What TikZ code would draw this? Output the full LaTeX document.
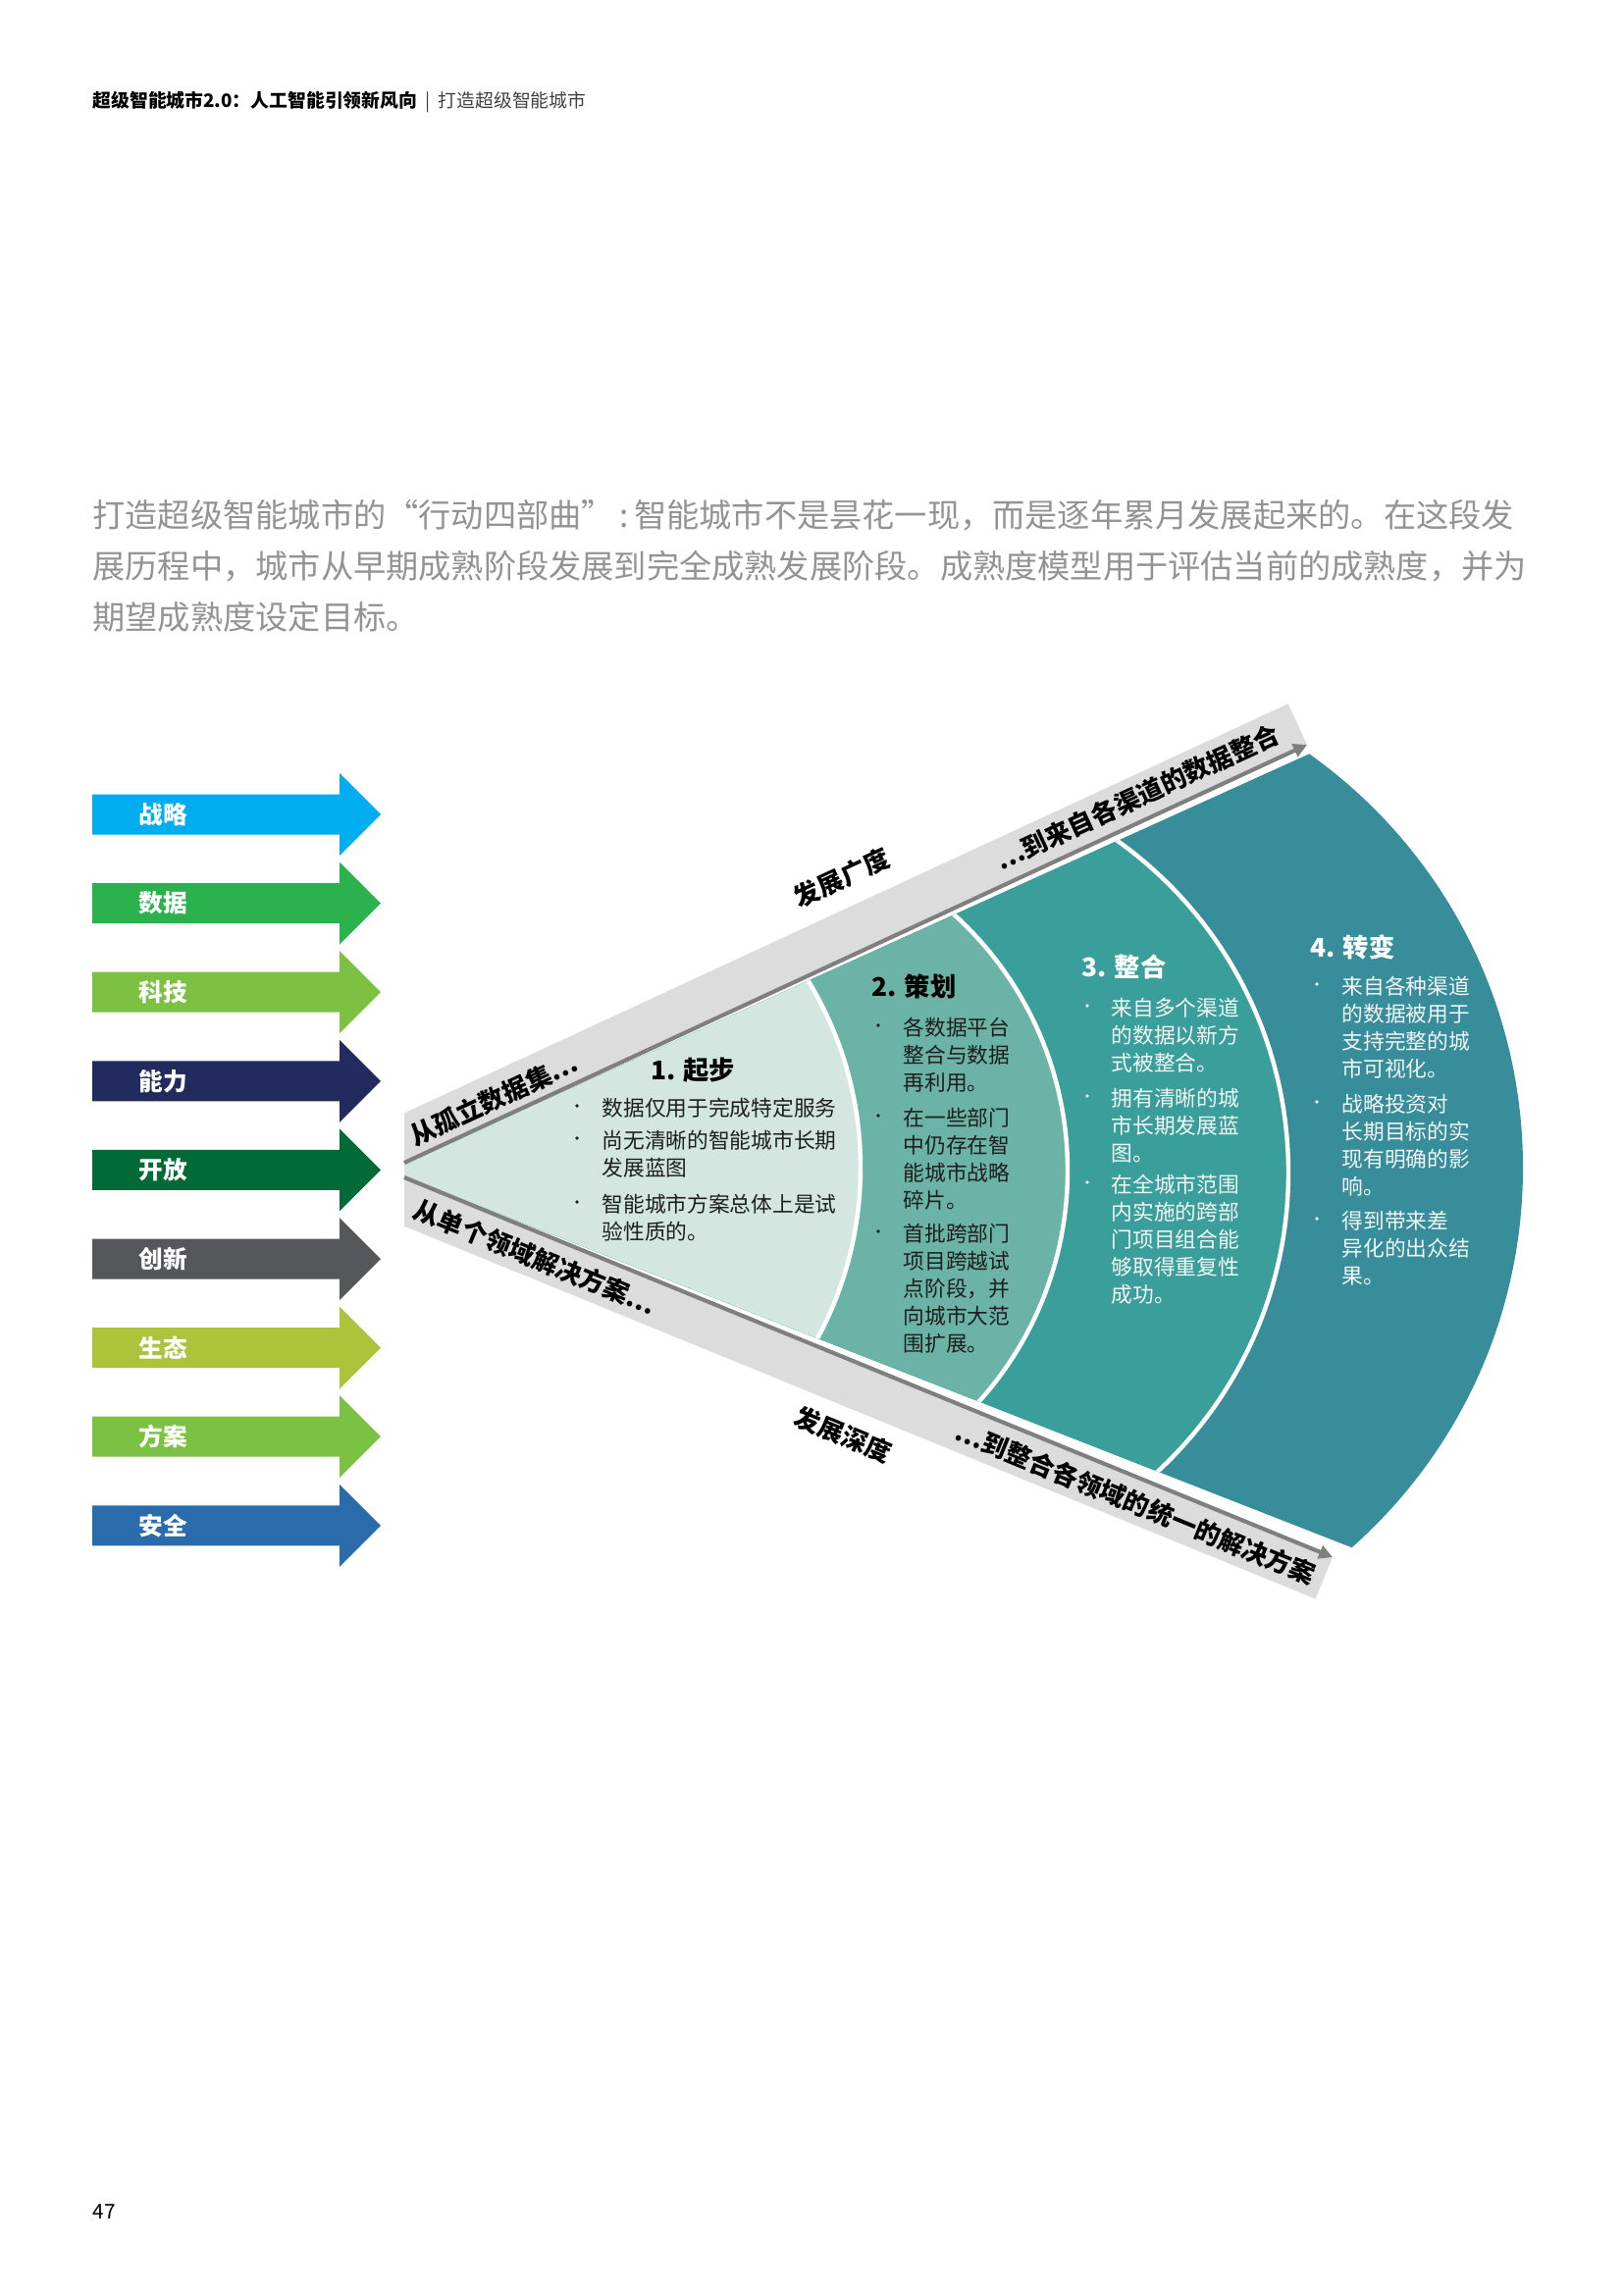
\documentclass[tikz,border=0pt]{standalone}
\usepackage{fontspec}
\setmainfont{Noto Sans CJK SC}
\usetikzlibrary{arrows.meta}

\definecolor{cA}{HTML}{00ADEE}
\definecolor{cB}{HTML}{2BB24C}
\definecolor{cC}{HTML}{7CC142}
\definecolor{cD}{HTML}{232B5E}
\definecolor{cE}{HTML}{026A37}
\definecolor{cF}{HTML}{55575B}
\definecolor{cG}{HTML}{ADC33C}
\definecolor{cH}{HTML}{7BC143}
\definecolor{cI}{HTML}{2A6BAC}
\definecolor{secA}{HTML}{D3E6E0}
\definecolor{secB}{HTML}{6BB3A7}
\definecolor{secC}{HTML}{3A9E9B}
\definecolor{secD}{HTML}{378D9A}
\definecolor{bandgray}{HTML}{DDDCDD}
\definecolor{linegray}{HTML}{7F7F7F}
\definecolor{paragray}{HTML}{939393}
\definecolor{hdrgray}{HTML}{404040}
\definecolor{txtdark}{HTML}{1E1E1E}
\definecolor{txtlight}{HTML}{F2F5F5}

\newcommand\bulitem[6]{%
  \node[dotsty, fill=#5, name=#1d] at (#2,#4) {};
  \foreach \lline [count=\k from 0] in {#6} {%
    \node[sectxt, text=#5, name=#1\k] at (#3,{#4+\k*28}) {\lline};
  }%
}

\begin{document}
\begin{tikzpicture}[x=0.127mm, y=-0.127mm,
  hdr/.style={inner sep=0, anchor=west, font=\fontsize{6.8}{8}\selectfont},
  para/.style={inner sep=0, anchor=west, text=paragray, font=\fontsize{12.0}{15}\selectfont},
  armlbl/.style={inner sep=0, anchor=west, text=white, font=\fontsize{8.9}{10}\selectfont\bfseries},
  bandtxt/.style={inner sep=0, text=black, font=\fontsize{9.4}{11}\selectfont\bfseries},
  sectxt/.style={inner sep=0, anchor=west, text height=0.88em, text depth=0.12em, font=\fontsize{7.85}{10}\selectfont},
  dotsty/.style={circle, inner sep=0, minimum size=1.3pt},
  ttl/.style={inner sep=0, font=\fontsize{9.5}{11}\selectfont\bfseries},
  axisline/.style={draw=linegray, line width=1.5pt, -{Triangle[length=5pt, width=5pt]}},
  secborder/.style={draw=white, line width=1.6pt}
]
\useasboundingbox (0,0) rectangle (1654,2339);

% header
\node[hdr] (hdr) at (94,104) {\textbf{超级智能城市2.0：人工智能引领新风向}\hspace{3pt}{\color{hdrgray}|\hspace{3pt}打造超级智能城市}};

% paragraph
\node[para] (p1) at (94,525) {打造超级智能城市的“行动四部曲”\,:\,智能城市不是昙花一现，而是逐年累月发展起来的。在这段发};
\node[para] (p2) at (94,577) {展历程中，城市从早期成熟阶段发展到完全成熟发展阶段。成熟度模型用于评估当前的成熟度，并为};
\node[para] (p3) at (94,629) {期望成熟度设定目标。};

% left arrows
\foreach \cy/\lab/\col [count=\i] in {830/战略/cA, 920.6/数据/cB, 1011.2/科技/cC, 1101.8/能力/cD, 1192.4/开放/cE, 1283/创新/cF, 1373.6/生态/cG, 1464.2/方案/cH, 1554.8/安全/cI}{
  \fill[\col] (94,\cy-20.5) -- (346,\cy-20.5) -- (346,\cy-42) -- (388,\cy) -- (346,\cy+42) -- (346,\cy+20.5) -- (94,\cy+20.5) -- cycle;
  \node[armlbl] (arr\i) at (141,\cy) {\lab};
}

% gray bands
\fill[bandgray] (412,1185) -- (1332,759) -- (1312.7,717.3) -- (412,1134.4) -- cycle;
\fill[bandgray] (412,1200) -- (1358,1587) -- (1340.6,1629.6) -- (412,1249.7) -- cycle;

% fan sections
\begin{scope}
\clip (412,1186) -- (1700,602.7) -- (1700,1703.5) -- (412,1199) -- cycle;
\fill[secD] (1035,1190) circle[radius=517];
\path[fill=secC, secborder] (898,1195) circle[radius=415];
\path[fill=secB, secborder] (736,1193) circle[radius=352];
\path[fill=secA, secborder] (511,1190) circle[radius=366];
\end{scope}

% axis lines
\coordinate (u0) at (412,1185);
\coordinate (u1) at (1332,759);
\coordinate (l0) at (412,1200);
\coordinate (l1) at (1358,1587);
\draw[axisline] (u0) -- (u1);
\draw[axisline] (l0) -- (l1);

% band texts
\node[bandtxt, rotate=24.84] (bt1) at (503,1120) {从孤立数据集…};
\node[bandtxt, rotate=24.84] (bt2) at (1159,812.5) {…到来自各渠道的数据整合};
\node[bandtxt, rotate=24.84] (bt3) at (858,894.7) {发展广度};
\node[bandtxt, rotate=-22.25] (bt4) at (545.5,1281.6) {从单个领域解决方案…};
\node[bandtxt, rotate=-22.25] (bt5) at (858.9,1462) {发展深度};
\node[bandtxt, rotate=-22.25] (bt6) at (1157.3,1531.9) {…到整合各领域的统一的解决方案};

% section titles
\node[ttl, text=black] (t1) at (706,1091) {1. 起步};
\node[ttl, text=black, anchor=west] (t2) at (888,1005) {2. 策划};
\node[ttl, text=white, anchor=west] (t3) at (1102,985) {3. 整合};
\node[ttl, text=white, anchor=west] (t4) at (1335,965) {4. 转变};

% section 1
\bulitem{sAa}{588}{613}{1127}{txtdark}{数据仅用于完成特定服务}
\bulitem{sAb}{588}{613}{1160}{txtdark}{尚无清晰的智能城市长期,发展蓝图}
\bulitem{sAc}{588}{613}{1225}{txtdark}{智能城市方案总体上是试,验性质的。}
% section 2
\bulitem{sBa}{895}{920}{1045}{txtdark}{各数据平台,整合与数据,再利用。}
\bulitem{sBb}{895}{920}{1137}{txtdark}{在一些部门,中仍存在智,能城市战略,碎片。}
\bulitem{sBc}{895}{920}{1255}{txtdark}{首批跨部门,项目跨越试,点阶段，并,向城市大范,围扩展。}
% section 3
\bulitem{sCa}{1108}{1132}{1025}{txtlight}{来自多个渠道,的数据以新方,式被整合。}
\bulitem{sCb}{1108}{1132}{1117}{txtlight}{拥有清晰的城,市长期发展蓝,图。}
\bulitem{sCc}{1108}{1132}{1205}{txtlight}{在全城市范围,内实施的跨部,门项目组合能,够取得重复性,成功。}
% section 4
\bulitem{sDa}{1342}{1367}{1003}{txtlight}{来自各种渠道,的数据被用于,支持完整的城,市可视化。}
\bulitem{sDb}{1342}{1367}{1123}{txtlight}{战略投资对,长期目标的实,现有明确的影,响。}
\bulitem{sDc}{1342}{1367}{1242}{txtlight}{得到带来差,异化的出众结,果。}

% page number
\node[inner sep=0, anchor=west, font=\fontsize{7.5}{9}\selectfont] (pg) at (94,2254) {47};
\end{tikzpicture}
\end{document}
